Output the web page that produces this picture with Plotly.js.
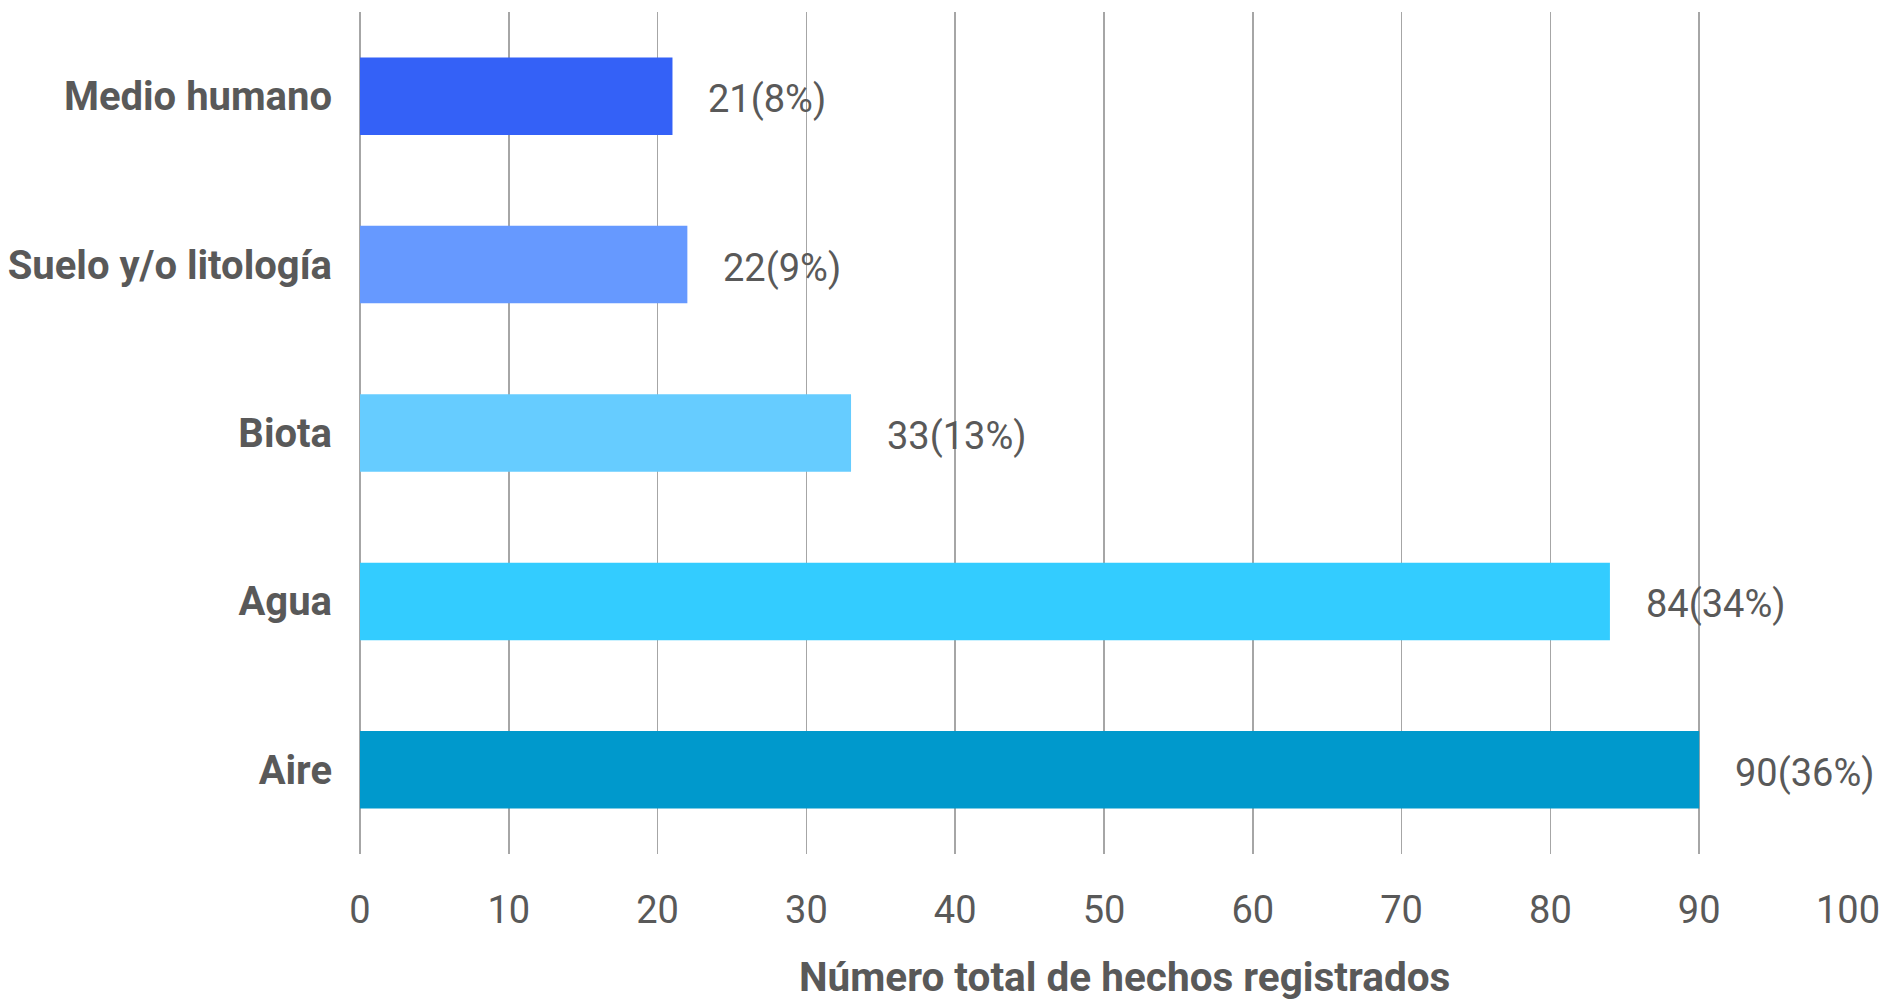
<!DOCTYPE html>
<html>
<head>
<meta charset="utf-8">
<script src="https://cdn.plot.ly/plotly-3.0.1.min.js"></script>
<style>html,body{margin:0;padding:0;background:#fff;}#chart{width:1881px;height:1002px;}</style>
</head>
<body>
<div id="chart"></div>
<script>
// Data (top to bottom)
const categories = ["Medio humano", "Suelo y/o litología", "Biota", "Agua", "Aire"];
const values = [21, 22, 33, 84, 90];
const percents = [8, 9, 13, 34, 36];
const barColors = ["#3461F7", "#6699FF", "#66CCFF", "#33CCFF", "#0099CC"];
const xTicks = [0, 10, 20, 30, 40, 50, 60, 70, 80, 90, 100];
const xTitle = "Número total de hechos registrados";

const labels = values.map((v, i) => v + "(" + percents[i] + "%)");
const textColor = "#595959";
const fontFam = "Roboto, 'Liberation Sans', sans-serif";

const trace = {
  type: "bar",
  orientation: "h",
  x: values,
  y: categories,
  marker: { color: barColors, line: { width: 0 } },
  hoverinfo: "x+y",
  cliponaxis: false
};

const annotations = values.map((v, i) => ({
  x: v, y: categories[i], xref: "x", yref: "y",
  text: labels[i], showarrow: false,
  xanchor: "left", yanchor: "middle", xshift: 34, yshift: -3,
  font: { family: fontFam, size: 38, color: textColor }
}));

annotations.push({
  x: 0.5, y: -0.146, xref: "paper", yref: "paper",
  text: xTitle, showarrow: false,
  xanchor: "center", yanchor: "middle", xshift: 20,
  font: { family: fontFam, size: 40.5, color: textColor, weight: "bold" }
});

const layout = {
  width: 1881, height: 1002,
  margin: { l: 360, r: 33, t: 12, b: 148 },
  paper_bgcolor: "#fff", plot_bgcolor: "#fff",
  showlegend: false,
  bargap: 0.54,
  font: { family: fontFam, color: textColor },
  xaxis: {
    range: [0, 100],
    tickvals: xTicks,
    ticktext: xTicks.map(String),
    showgrid: true, gridcolor: "#A6A6A6", gridwidth: 1.5,
    zeroline: true, zerolinecolor: "#A6A6A6", zerolinewidth: 1.5,
    showline: false, ticks: "",
    ticklabelstandoff: 30,
    tickfont: { family: fontFam, size: 38, color: textColor },
    fixedrange: true
  },
  yaxis: {
    type: "category",
    autorange: "reversed",
    showgrid: false, zeroline: false, showline: false, ticks: "",
    ticklabelstandoff: 27,
    tickfont: { family: fontFam, size: 40, color: textColor, weight: "bold" },
    fixedrange: true
  },
  annotations: annotations
};

Plotly.newPlot("chart", [trace], layout, { displayModeBar: false, staticPlot: true });
</script>
</body>
</html>
